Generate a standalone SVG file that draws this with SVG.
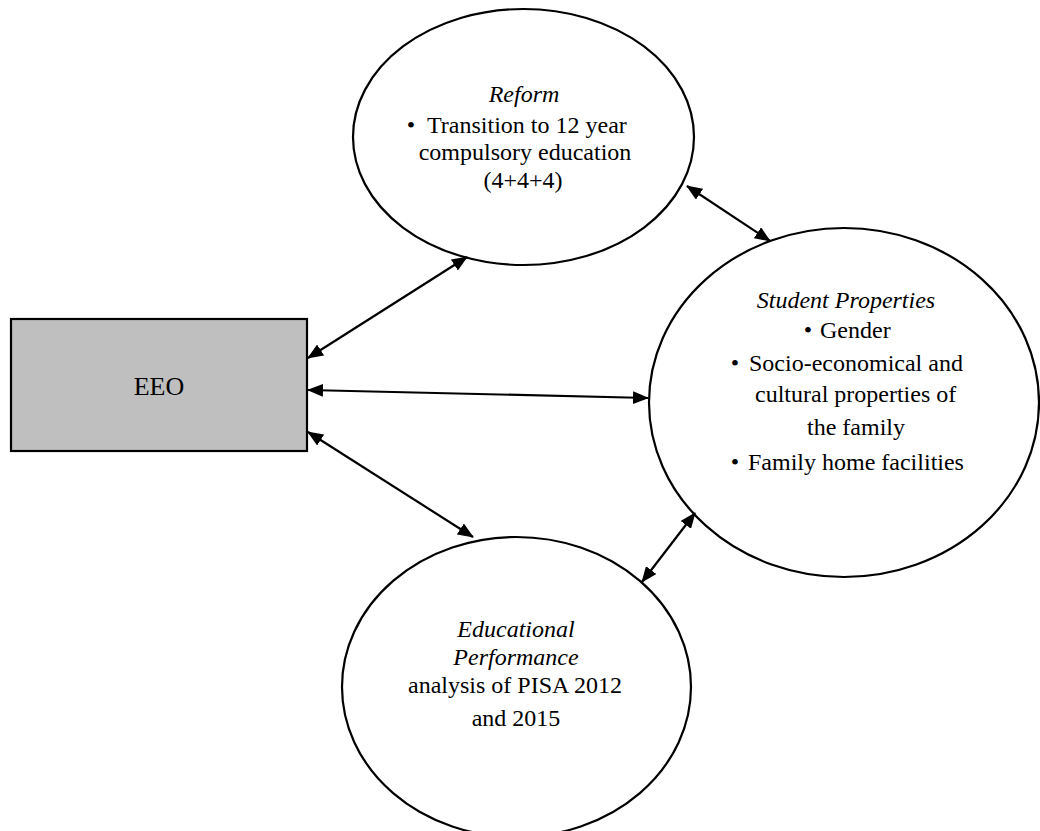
<svg xmlns="http://www.w3.org/2000/svg" width="1040" height="831" viewBox="0 0 1040 831">
<style>
text{font-family:"Liberation Serif","Times New Roman",serif;font-size:24px;fill:#000}
.i{font-style:italic}
.m{text-anchor:middle}
.node{fill:#fff;stroke:#000;stroke-width:2.2}
.conn line{stroke:#000;stroke-width:2.2;marker-start:url(#ah);marker-end:url(#ah)}
</style>
<defs>
<marker id="ah" viewBox="0 0 16 13" refX="15" refY="6.5" markerWidth="16" markerHeight="13" markerUnits="userSpaceOnUse" orient="auto-start-reverse">
<path d="M0,0 L16,6.5 L0,13 z" fill="#000"/>
</marker>
</defs>
<rect width="1040" height="831" fill="#fff"/>
<g id="reform">
<ellipse class="node" cx="523.5" cy="137" rx="170.5" ry="128"/>
<text class="i m" x="524" y="102">Reform</text>
<text class="m" x="411" y="133">•</text>
<text x="427" y="133">Transition to 12 year</text>
<text class="m" x="525" y="160">compulsory education</text>
<text class="m" x="523" y="188">(4+4+4)</text>
</g>
<g id="student">
<ellipse class="node" cx="844" cy="402.5" rx="195" ry="174.5"/>
<text class="i m" x="846" y="308">Student Properties</text>
<text class="m" x="808" y="338">•</text>
<text x="820" y="338">Gender</text>
<text class="m" x="735" y="371">•</text>
<text x="749" y="371">Socio-economical and</text>
<text x="755" y="402">cultural properties of</text>
<text class="m" x="856" y="435">the family</text>
<text class="m" x="735" y="470">•</text>
<text x="748" y="470">Family home facilities</text>
</g>
<g id="performance">
<ellipse class="node" cx="516.5" cy="687" rx="174.5" ry="150"/>
<text class="i m" x="516" y="637">Educational</text>
<text class="i m" x="516" y="665">Performance</text>
<text class="m" x="515" y="693">analysis of PISA 2012</text>
<text class="m" x="516" y="726">and 2015</text>
</g>
<g id="eeo">
<rect x="11" y="319" width="296" height="132" fill="#bfbfbf" stroke="#000" stroke-width="2.2"/>
<text class="m" x="159" y="395" style="font-size:26px">EEO</text>
</g>
<g class="conn" id="connectors">
<line x1="308" y1="358" x2="467" y2="257"/>
<line x1="308" y1="390" x2="648" y2="398"/>
<line x1="308" y1="432" x2="473" y2="537"/>
<line x1="687" y1="186" x2="770" y2="241"/>
<line x1="695" y1="513" x2="642" y2="582"/>
</g>
</svg>
